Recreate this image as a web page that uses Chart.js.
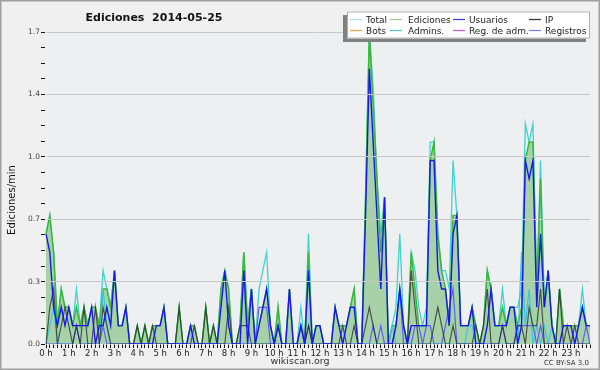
<!DOCTYPE html>
<html>
<head>
<meta charset="utf-8">
<script src="https://cdn.jsdelivr.net/npm/chart.js@4.4.1/dist/chart.umd.min.js"></script>
<style>
  html, body { margin: 0; padding: 0; background: #f0f0f0; }
  #wrap { width: 600px; height: 370px; }
</style>
</head>
<body>
<div id="wrap"><canvas id="chart" width="600" height="370"></canvas></div>
<script>
// one value every 10 minutes, 0h00 .. 23h50 (edits per minute)
const hourLabels = ['0 h','1 h','2 h','3 h','4 h','5 h','6 h','7 h','8 h','9 h','10 h','11 h',
  '12 h','13 h','14 h','15 h','16 h','17 h','18 h','19 h','20 h','21 h','22 h','23 h'];

const total = [
  0.6,0.7,0.5,0.1,0.3,0.2, 0.2,0.1,0.3,0.1,0.2,0.1,
  0.2,0.2,0.1,0.4,0.3,0.2, 0.4,0.1,0.1,0.2,0,0,
  0.1,0,0.1,0,0.1,0.1, 0.1,0.2,0,0,0,0.2,
  0,0,0.1,0.1,0,0, 0.2,0,0.1,0,0.3,0.4,
  0.3,0,0,0.1,0.5,0.1, 0.3,0,0.3,0.4,0.5,0.1,
  0,0.2,0,0,0.3,0, 0,0.2,0,0.6,0,0.1,
  0.1,0,0,0,0.2,0.1, 0.1,0.1,0.2,0.3,0,0,
  0.8,1.7,1.4,0.9,0.6,0.8, 0,0.1,0.2,0.6,0.1,0,
  0.5,0.4,0.2,0.1,0.2,1.1, 1.1,0.6,0.4,0.4,0.3,1.0,
  0.7,0.1,0.1,0.1,0.2,0.1, 0,0.1,0.4,0.3,0.1,0.1,
  0.3,0.1,0.2,0.2,0.2,0.3, 1.2,1.1,1.2,0.3,1.0,0.2,
  0.4,0.1,0,0.3,0.1,0.1, 0.1,0.1,0.1,0.3,0.1,0.1
];
const edits = [
  0.6,0.7,0.5,0.1,0.3,0.2, 0.2,0.1,0.2,0.1,0.2,0.1,
  0.2,0.2,0.1,0.3,0.3,0.2, 0.4,0.1,0.1,0.2,0,0,
  0.1,0,0.1,0,0.1,0.1, 0.1,0.2,0,0,0,0.2,
  0,0,0.1,0.1,0,0, 0.2,0,0.1,0,0.3,0.4,
  0.3,0,0,0.1,0.5,0.1, 0.3,0,0.1,0.2,0.3,0.1,
  0,0.2,0,0,0.3,0, 0,0.1,0,0.5,0,0.1,
  0.1,0,0,0,0.2,0.1, 0.1,0.1,0.2,0.3,0,0,
  0.8,1.7,1.3,0.9,0.5,0.8, 0,0.1,0.1,0.3,0.1,0,
  0.5,0.3,0.1,0.1,0.1,1.0, 1.1,0.6,0.4,0.3,0.1,0.7,
  0.7,0.1,0.1,0.1,0.2,0.1, 0,0.1,0.4,0.3,0.1,0.1,
  0.2,0.1,0.2,0.2,0.1,0.2, 1.0,1.1,1.1,0.3,0.9,0.2,
  0.4,0.1,0,0.3,0.1,0.1, 0.1,0.1,0.1,0.2,0.1,0.1
];
const users = [
  0.6,0.5,0.2,0.1,0.2,0.1, 0.2,0.1,0.1,0.1,0.1,0.1,
  0.2,0,0.1,0.1,0.2,0.1, 0.4,0.1,0.1,0.2,0,0,
  0,0,0,0,0,0.1, 0.1,0.2,0,0,0,0,
  0,0,0.1,0,0,0, 0,0,0,0,0.2,0.4,
  0.1,0,0,0,0.4,0, 0.3,0,0.1,0.2,0.3,0.1,
  0,0.1,0,0,0.3,0, 0,0.1,0,0.4,0,0.1,
  0.1,0,0,0,0.2,0.1, 0,0.1,0.2,0.2,0,0,
  0.7,1.5,1.1,0.7,0.3,0.8, 0,0,0.1,0.3,0.1,0,
  0.1,0.1,0.1,0.1,0.1,1.0, 1.0,0.4,0.3,0.3,0.1,0.6,
  0.7,0.1,0.1,0.1,0.2,0, 0,0,0.1,0.3,0.1,0.1,
  0.1,0.1,0.2,0.2,0,0.1, 1.0,0.9,1.0,0.2,0.6,0.2,
  0.4,0.1,0,0,0.1,0.1, 0.1,0,0.1,0.2,0.1,0.1
];
const ip = [
  0,0.2,0.3,0,0.1,0.2, 0.1,0,0.1,0,0.2,0,
  0,0.2,0,0.2,0.1,0, 0,0,0,0,0,0,
  0.1,0,0.1,0,0.1,0, 0,0,0,0,0,0.2,
  0,0,0,0.1,0,0, 0.2,0,0.1,0,0,0,
  0.2,0,0,0.1,0.1,0.1, 0,0,0,0,0,0,
  0,0.1,0,0,0,0, 0,0,0,0.1,0,0,
  0,0,0,0,0,0, 0.1,0,0,0.1,0,0,
  0.1,0.2,0.1,0,0,0, 0,0,0,0,0,0,
  0.4,0.2,0,0,0,0, 0.1,0.2,0.1,0,0,0.1,
  0,0,0,0,0,0.1, 0,0.1,0.3,0,0,0,
  0.1,0,0,0,0.1,0.1, 0,0.2,0.1,0.1,0.3,0,
  0,0,0,0.3,0,0.1, 0,0.1,0,0,0,0
];
const admins = [
  0,0.1,0.2,0,0,0, 0,0,0.1,0,0,0,
  0,0,0,0.3,0.1,0, 0,0,0,0,0,0,
  0,0,0,0,0,0, 0,0,0,0,0,0,
  0,0,0,0,0,0, 0,0,0,0,0,0,
  0,0,0,0,0,0, 0,0,0,0,0,0,
  0,0,0,0,0,0, 0,0,0,0,0,0,
  0,0,0,0,0,0, 0,0,0,0,0,0,
  0,0,0,0,0,0, 0,0.1,0,0,0,0,
  0,0,0,0,0,0, 0,0,0,0,0,0,
  0,0,0,0.1,0.1,0, 0,0,0,0,0,0,
  0,0,0,0,0,0.5, 0.1,0.3,0,0.1,0,0.1,
  0,0.1,0,0,0,0, 0,0,0,0,0,0
];
const registros = [
  0,0,0,0,0,0, 0,0,0.1,0,0,0,
  0,0,0,0.1,0,0, 0,0,0,0,0,0,
  0,0,0,0,0,0, 0,0,0,0,0,0,
  0,0,0,0,0,0, 0,0,0,0,0,0,
  0,0,0,0,0,0, 0,0,0.2,0.2,0.2,0,
  0,0,0,0,0,0, 0,0.1,0,0.1,0,0,
  0,0,0,0,0,0, 0,0,0,0,0,0,
  0,0,0.1,0,0.1,0, 0,0,0.1,0.3,0,0,
  0,0.1,0.1,0,0.1,0.1, 0,0,0,0.1,0.2,0.3,
  0,0,0,0,0,0, 0,0,0,0,0,0,
  0.1,0,0,0,0.1,0.1, 0.1,0.1,0.1,0,0.1,0,
  0,0,0,0,0,0, 0,0,0,0,0.1,0
];
const bots = [];    // nothing this day
const regAdm = [];  // nothing this day

const legendItems = [
  ['Total', '#a9e2e2'], ['Ediciones', '#8fd08f'], ['Usuarios', '#3a3ae0'], ['IP', '#333333'],
  ['Bots', '#f0a040'], ['Admins.', '#4cc8dc'], ['Reg. de adm.', '#cc55dd'], ['Registros', '#7a7ae8']
];

// category labels, one per 10 minute slot
const slots = [];
for (let h = 0; h < 24; h++) {
  for (let m = 0; m < 60; m += 10) slots.push(h + ':' + (m < 10 ? '0' : '') + m);
}

// background, frame, title, legend box and footer
const decor = {
  id: 'decor',
  beforeDraw(chart) {
    const { ctx, chartArea: a } = chart;
    ctx.save();
    ctx.fillStyle = '#f0f0f0';
    ctx.fillRect(0, 0, chart.width, chart.height);
    ctx.fillStyle = '#eeeff1';
    ctx.fillRect(a.left, a.top, a.right - a.left, a.bottom - a.top);
    ctx.restore();
  },
  afterDraw(chart) {
    const ctx = chart.ctx;
    ctx.save();
    ctx.strokeStyle = '#a0a0a0';
    ctx.lineWidth = 1.5;
    ctx.strokeRect(0.75, 0.75, chart.width - 1.5, chart.height - 1.5);

    ctx.fillStyle = '#111';
    ctx.font = 'bold 11px "DejaVu Sans"';
    ctx.textAlign = 'center';
    ctx.textBaseline = 'alphabetic';
    ctx.fillText('Ediciones  2014-05-25', 154, 20.5);

    ctx.save();
    ctx.translate(12, 200);
    ctx.rotate(-Math.PI / 2);
    ctx.font = '10px "DejaVu Sans"';
    ctx.textBaseline = 'middle';
    ctx.fillText('Ediciones/min', 0, 0);
    ctx.restore();

    // legend
    ctx.fillStyle = '#808080';
    ctx.fillRect(343, 15, 243, 27);
    ctx.fillStyle = '#ffffff';
    ctx.fillRect(347, 11.5, 243, 27);
    ctx.strokeStyle = '#b0b0b0';
    ctx.lineWidth = 1;
    ctx.strokeRect(347.5, 12, 242, 26);
    const colLine = [350, 390, 453, 529];
    const colText = [366, 408, 469, 545];
    ctx.font = '9px "DejaVu Sans"';
    ctx.textAlign = 'left';
    legendItems.forEach(([name, color], k) => {
      const col = k % 4, row = Math.floor(k / 4);
      const ly = row === 0 ? 19.5 : 30.5;
      ctx.strokeStyle = color;
      ctx.lineWidth = 1.2;
      ctx.beginPath();
      ctx.moveTo(colLine[col], ly);
      ctx.lineTo(colLine[col] + 12, ly);
      ctx.stroke();
      ctx.fillStyle = '#222';
      ctx.fillText(name, colText[col], row === 0 ? 22.5 : 33.5);
    });

    // footer
    ctx.fillStyle = '#333';
    ctx.textAlign = 'center';
    ctx.font = '9.5px "DejaVu Sans"';
    ctx.fillText('wikiscan.org', 300, 364);
    ctx.textAlign = 'right';
    ctx.font = '7px "DejaVu Sans"';
    ctx.fillText('CC BY-SA 3.0', 589, 365);
    ctx.restore();
  }
};

const ctx = document.getElementById('chart').getContext('2d');
new Chart(ctx, {
  type: 'line',
  data: {
    labels: slots,
    datasets: [
      { label: 'Usuarios', data: users, borderColor: '#1818ee', borderWidth: 1.4, order: 1 },
      { label: 'IP', data: ip, borderColor: 'rgba(40,40,40,0.75)', borderWidth: 1.2, order: 2 },
      { label: 'Registros', data: registros, borderColor: '#5f5ff0', borderWidth: 1.2, order: 3 },
      { label: 'Admins.', data: admins, borderColor: '#3cc6dc', borderWidth: 1.2, order: 4 },
      { label: 'Ediciones', data: edits, borderColor: '#3ab83a', borderWidth: 1.5,
        backgroundColor: 'rgba(80,175,80,0.45)', fill: 'origin', order: 5 },
      { label: 'Total', data: total, borderColor: '#3cd4cc', borderWidth: 1.3, order: 6 },
      { label: 'Bots', data: bots, borderColor: '#f0a040', order: 7 },
      { label: 'Reg. de adm.', data: regAdm, borderColor: '#cc55dd', order: 8 }
    ]
  },
  options: {
    responsive: false,
    animation: false,
    layout: { padding: { top: 32, right: 10, left: 0, bottom: 0 } },
    elements: { point: { radius: 0 }, line: { tension: 0 } },
    plugins: { legend: { display: false }, tooltip: { enabled: false } },
    scales: {
      x: {
        type: 'category',
        offset: false,
        afterFit(scale) { scale.height = 26; },
        grid: { drawOnChartArea: false, tickLength: 4, tickColor: '#111', z: 1 },
        border: { display: true, color: '#000', width: 1.5 },
        ticks: {
          autoSkip: false, maxRotation: 0, minRotation: 0, padding: 1,
          color: '#222', font: { family: 'DejaVu Sans', size: 8.5 },
          callback: (v, i) => (i % 6 === 0 ? hourLabels[i / 6] : '')
        }
      },
      y: {
        min: 0,
        max: 1.7,
        afterFit(scale) { scale.width = 46; },
        afterBuildTicks(scale) {
          const t = [];
          for (let k = 0; k <= 20; k++) t.push({ value: Math.round(k * 85) / 1000 });
          scale.ticks = t;
        },
        grid: {
          color: (c) => (c.index % 4 === 0 && c.index > 0 ? '#c8c8c8' : 'rgba(0,0,0,0)'),
          tickColor: '#111', tickLength: 5, z: 1
        },
        border: { display: true, color: '#000', width: 1.5 },
        ticks: {
          padding: 1, color: '#444', font: { family: 'DejaVu Sans', size: 7.5 },
          callback: (v, i) => (i % 4 === 0 ? v.toFixed(1) : '')
        }
      }
    }
  },
  plugins: [decor]
});
</script>
</body>
</html>
